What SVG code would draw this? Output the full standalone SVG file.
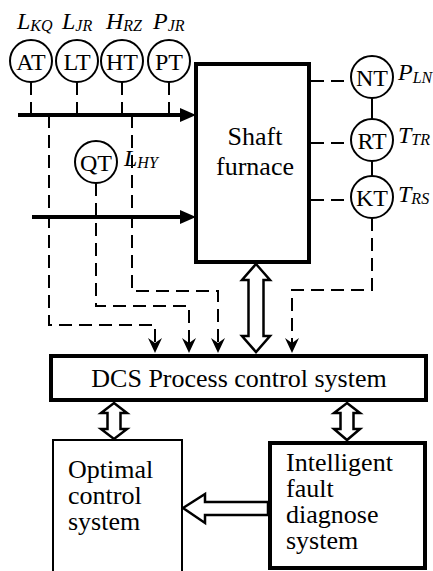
<svg xmlns="http://www.w3.org/2000/svg" width="433" height="571" viewBox="0 0 433 571">
<style>
  text { font-family: "Liberation Serif", "Times New Roman", serif; fill: #000; }
  .lbl { font-style: italic; font-size: 24px; }
  .sub { font-size: 16px; }
  .ct { font-size: 24px; text-anchor: middle; }
  .big { font-size: 26px; }
  .circ { fill: #fff; stroke: #000; stroke-width: 2; }
  .dash { fill: none; stroke: #000; stroke-width: 2; stroke-dasharray: 13 7; }
  .solid { fill: none; stroke: #000; stroke-width: 2; }
  .thick { fill: none; stroke: #000; stroke-width: 4; }
  .hollow { fill: #fff; stroke: #000; stroke-width: 2.5; stroke-linejoin: miter; }
  .head { fill: #000; stroke: none; }
</style>
<rect width="433" height="571" fill="#fff"/>

<g id="connectors">
  <path class="dash" d="M31,82 V115 M77,82 V115 M122,82 V115 M169,82 V115"/>
  <path class="thick" d="M18,115 H182"/>
  <polygon class="head" points="196,115 180,108 180,122"/>
  <path class="thick" d="M32,217 H182"/>
  <polygon class="head" points="196,217 180,210 180,224"/>
  <path class="dash" d="M49,115 V325 H155 V345"/>
  <path class="dash" d="M96,183 V306 H189 V345"/>
  <path class="dash" d="M132,115 V291 H218 V345"/>
  <path class="dash" d="M372,218 V290 H292 V345"/>
  <path class="head" d="M155,353 L148,338 L155,343 L162,338 Z"/>
  <path class="head" d="M189,353 L182,338 L189,343 L196,338 Z"/>
  <path class="head" d="M218,353 L211,338 L218,343 L225,338 Z"/>
  <path class="head" d="M292,353 L285,338 L292,343 L299,338 Z"/>
  <path class="dash" d="M311,81 H351 M311,143 H351 M311,200 H351"/>
  <path class="solid" d="M372,98 V119 M372,161 V176"/>
  <polygon class="hollow" points="256,264 270,280 263.5,280 263.5,336 270,336 256,352 242,336 248.5,336 248.5,280 242,280"/>
  <polygon class="hollow" points="114,403 127,413 120.5,413 120.5,429 127,429 114,439 101,429 107.5,429 107.5,413 101,413"/>
  <polygon class="hollow" points="347,403 360,413 353.5,413 353.5,429 360,429 347,440 334,429 340.5,429 340.5,413 334,413"/>
  <polygon class="hollow" points="183,508 205,494 205,502 268,502 268,515 205,515 205,523"/>
</g>

<g id="AT"><circle class="circ" cx="31" cy="61" r="21"/><text class="ct" x="31" y="69.5">AT</text></g>
<g id="LT"><circle class="circ" cx="77" cy="61" r="21"/><text class="ct" x="77" y="69.5">LT</text></g>
<g id="HT"><circle class="circ" cx="122" cy="61" r="21"/><text class="ct" x="122" y="69.5">HT</text></g>
<g id="PT"><circle class="circ" cx="169" cy="61" r="21"/><text class="ct" x="169" y="69.5">PT</text></g>

<g id="labels-top">
  <text class="lbl" x="17" y="29">L<tspan class="sub" dy="2">KQ</tspan></text>
  <text class="lbl" x="62" y="29">L<tspan class="sub" dy="2">JR</tspan></text>
  <text class="lbl" x="106" y="29">H<tspan class="sub" dy="2">RZ</tspan></text>
  <text class="lbl" x="153" y="29">P<tspan class="sub" dy="2">JR</tspan></text>
</g>

<g id="QT"><circle class="circ" cx="96" cy="162" r="21"/><text class="ct" x="96" y="170.5">QT</text>
  <text class="lbl" x="124" y="166">L<tspan class="sub" dy="2">HY</tspan></text></g>

<g id="furnace">
  <rect x="196" y="64" width="113" height="198" fill="#fff" stroke="#000" stroke-width="4"/>
  <text class="big" text-anchor="middle"><tspan x="255" y="145">Shaft</tspan><tspan x="255" y="175">furnace</tspan></text>
</g>

<g id="NT"><circle class="circ" cx="372" cy="77" r="21"/><text class="ct" x="372" y="85.5">NT</text>
  <text class="lbl" x="398" y="80">P<tspan class="sub" dy="3">LN</tspan></text></g>
<g id="RT"><circle class="circ" cx="372" cy="140" r="21"/><text class="ct" x="372" y="148.5">RT</text>
  <text class="lbl" x="398" y="143">T<tspan class="sub" dy="2">TR</tspan></text></g>
<g id="KT"><circle class="circ" cx="372" cy="197" r="21"/><text class="ct" x="372" y="205.5">KT</text>
  <text class="lbl" x="398" y="202">T<tspan class="sub" dy="2">RS</tspan></text></g>

<g id="DCS">
  <rect x="51" y="356" width="375" height="44" fill="#fff" stroke="#000" stroke-width="4"/>
  <text class="big" x="239" y="387" text-anchor="middle">DCS Process control system</text>
</g>

<g id="optimal">
  <rect x="53" y="440" width="129" height="140" fill="#fff" stroke="#000" stroke-width="2"/>
  <text class="big"><tspan x="68" y="478">Optimal</tspan><tspan x="68" y="504">control</tspan><tspan x="68" y="530">system</tspan></text>
</g>

<g id="fault">
  <rect x="270" y="443" width="155" height="125" fill="#fff" stroke="#000" stroke-width="4"/>
  <text class="big"><tspan x="286" y="471">Intelligent</tspan><tspan x="286" y="497">fault</tspan><tspan x="286" y="523">diagnose</tspan><tspan x="286" y="549">system</tspan></text>
</g>
</svg>
